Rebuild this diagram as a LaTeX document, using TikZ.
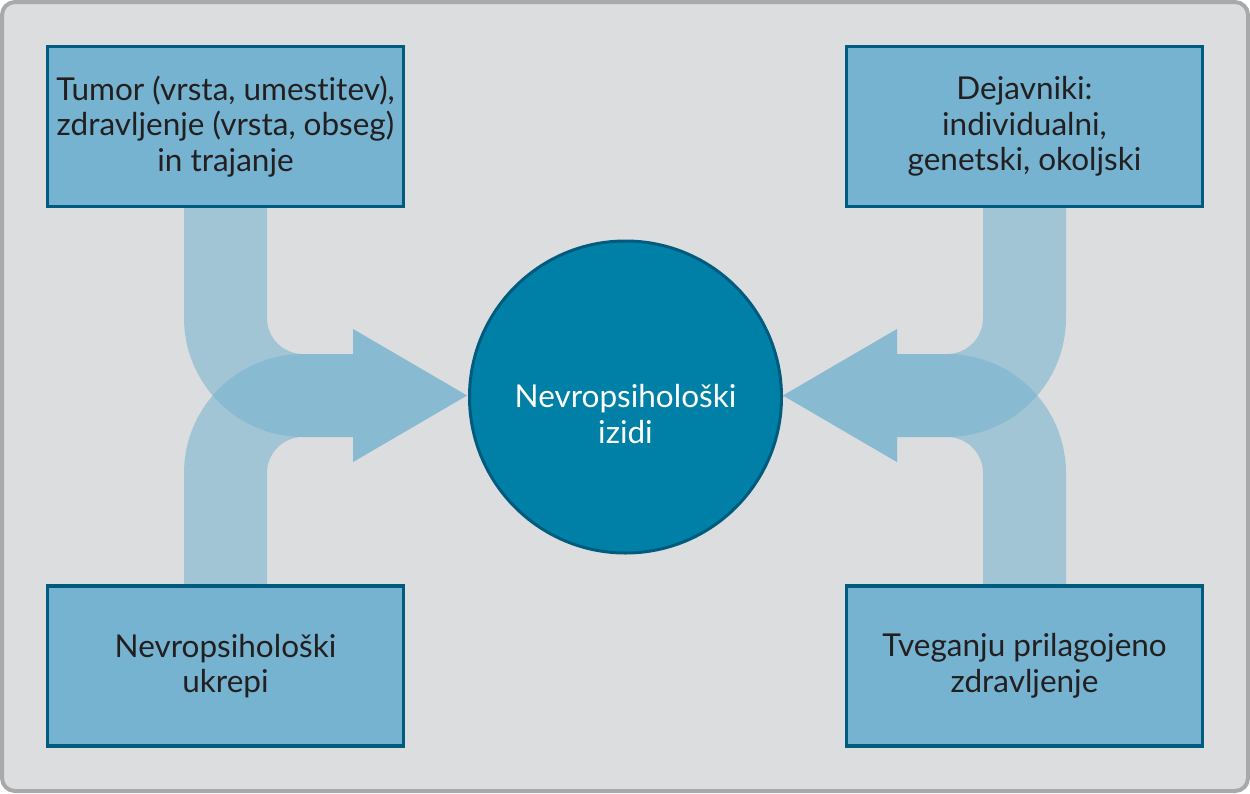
\documentclass[tikz,border=0pt]{standalone}
\usepackage{fontspec}
\setmainfont[Ligatures=NoCommon]{Lato}
\definecolor{bgfill}{HTML}{DCDDDF}
\definecolor{frameline}{HTML}{A7A9AB}
\definecolor{boxfill}{HTML}{75B3D0}
\definecolor{boxline}{HTML}{005B7F}
\definecolor{bandcol}{HTML}{74B3D0}
\definecolor{circfill}{HTML}{0080A6}
\definecolor{txt}{HTML}{231F20}
\tikzset{
  infobox/.style={draw=boxline, line width=3.5pt, fill=boxfill, minimum width=356pt, minimum height=160pt,
    inner sep=0pt, align=center, text=txt, font=\fontsize{31.5}{35.5}\selectfont},
  band/.style={fill=bandcol, fill opacity=0.55, draw=none},
  hub/.style={circle, draw=boxline, line width=3pt, fill=circfill, minimum size=312pt, inner sep=0pt},
  hubtext/.style={text=white, align=center, font=\fontsize{31.5}{35.5}\selectfont}
}
\begin{document}
\begin{tikzpicture}[x=1pt,y=-1pt]
\useasboundingbox (0,0) rectangle (1250,793);
\draw[frameline, line width=4pt, fill=bgfill, rounded corners=13pt] (2,2) rectangle (1248,791);
% bands
\path[band] (184,208) -- (184,318) arc[start angle=180,end angle=90,radius=119] -- (353,437) -- (353,462) -- (467,395.5) -- (353,329) -- (353,354) -- (303,354) arc[start angle=90,end angle=180,radius=36] -- (267,208) -- cycle;
\path[band] (184,585) -- (184,473) arc[start angle=180,end angle=270,radius=119] -- (353,354) -- (353,329) -- (467,395.5) -- (353,462) -- (353,437) -- (303,437) arc[start angle=270,end angle=180,radius=36] -- (267,585) -- cycle;
\path[band] (1066,208) -- (1066,318) arc[start angle=0,end angle=90,radius=119] -- (897,437) -- (897,462) -- (783,395.5) -- (897,329) -- (897,354) -- (947,354) arc[start angle=90,end angle=0,radius=36] -- (983,208) -- cycle;
\path[band] (1066,585) -- (1066,473) arc[start angle=0,end angle=-90,radius=119] -- (897,354) -- (897,329) -- (783,395.5) -- (897,462) -- (897,437) -- (947,437) arc[start angle=-90,end angle=0,radius=36] -- (983,585) -- cycle;
% boxes
\node[infobox] (tl) at (225.5,126.5) {Tumor (vrsta, umestitev),\\zdravljenje (vrsta, obseg)\\in trajanje};
\node[infobox] (tr) at (1024.5,126.5) {Dejavniki:\\individualni,\\genetski, okoljski};
\node[infobox] (bl) at (225.5,666) {Nevropsihološki\\ukrepi};
\node[infobox] (br) at (1024.5,666) {Tveganju prilagojeno\\zdravljenje};
\node[hub] (hub) at (625.5,397) {};
\node[hubtext] (hubt) at (625.5,414) {Nevropsihološki\\izidi};
\end{tikzpicture}
\end{document}
